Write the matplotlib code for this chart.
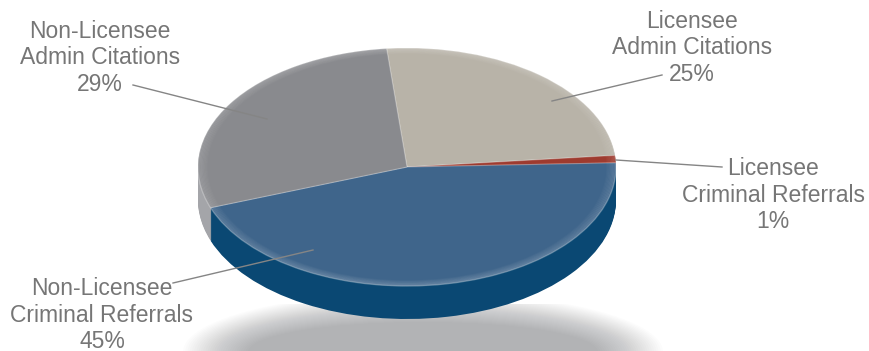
import matplotlib.pyplot as plt
from matplotlib.patches import Ellipse, Rectangle

# data
categories = [
    "Licensee\nAdmin Citations",
    "Licensee\nCriminal Referrals",
    "Non-Licensee\nCriminal Referrals",
    "Non-Licensee\nAdmin Citations",
]
values = [25, 1, 45, 29]

top_colors = ["#b8b3a8", "#9e3b2f", "#3f658b", "#898a8e"]
side_colors = ["#a9a398", "#82291f", "#0a4873", "#a4a5a9"]

# layout (pixels)
W, H = 869, 351
CX, CY = 407, 167          # pie centre on screen
RX, RY = 209, 119          # ellipse radii of the top face
DEPTH = 33
K = RY / RX

# label centre (x, middle-line y) and leader line start/end in pixels
label_pos = [(692, 48), (773, 195), (102, 315), (100, 58)]
leader_from = [(662, 75), (722, 167), (173, 283), (133, 85)]
leader_to = [(552, 101), (616, 160), (313, 250), (267, 119)]


def to_data(x, y):
    return x, (H - y) / K


fig = plt.figure(figsize=(W / 100, H / 100), dpi=100)
ax = fig.add_axes([0, 0, 1, 1])

# soft shadow under the pie, cut off flat along its top
clip = Rectangle((0, 0), W, (H - 304) / K, transform=ax.transData)
sx, sy = to_data(423, 352)
n = 30
for i in range(n):
    f = i / (n - 1)
    e = Ellipse((sx, sy), 480 - 130 * f, (120 - 60 * f) / K, color="#23262d",
                alpha=0.0105, lw=0, zorder=0)
    ax.add_patch(e)
    e.set_clip_path(clip)

# extruded side: stack of darker pies
for d in range(DEPTH, 0, -1):
    ax.pie(values, colors=side_colors, startangle=95.6, counterclock=False,
           center=to_data(CX, CY + d), radius=RX,
           wedgeprops=dict(linewidth=0, zorder=2))

# top face
wedges, _ = ax.pie(values, colors=top_colors, startangle=95.6,
                   counterclock=False, center=to_data(CX, CY), radius=RX,
                   wedgeprops=dict(linewidth=0.8, edgecolor=(1, 1, 1, 0.25),
                                   zorder=3))

# bevel highlight along the rim
c = to_data(CX, CY)
for i in range(8):
    f = 1 - i * 0.006
    ax.add_patch(Ellipse(c, 2 * RX * f, 2 * RX * f, fill=False,
                         edgecolor="white", lw=1.2, alpha=0.10 - i * 0.011,
                         zorder=4))

for name, v, (lx, ly), p0, p1 in zip(categories, values, label_pos,
                                     leader_from, leader_to):
    ax.text(*to_data(lx, ly), f"{name}\n{v}%", ha="center", va="center",
            fontsize=16.5, color="#767676", family="Liberation Sans",
            linespacing=1.17, zorder=6, multialignment="center")
    x0, y0 = to_data(*p0)
    x1, y1 = to_data(*p1)
    ax.plot([x0, x1], [y0, y1], color="#858585", lw=1, zorder=5)

ax.set_aspect("auto")
ax.set_xlim(0, W)
ax.set_ylim(0, H / K)
ax.axis("off")

fig.savefig("out.png", dpi=100)
